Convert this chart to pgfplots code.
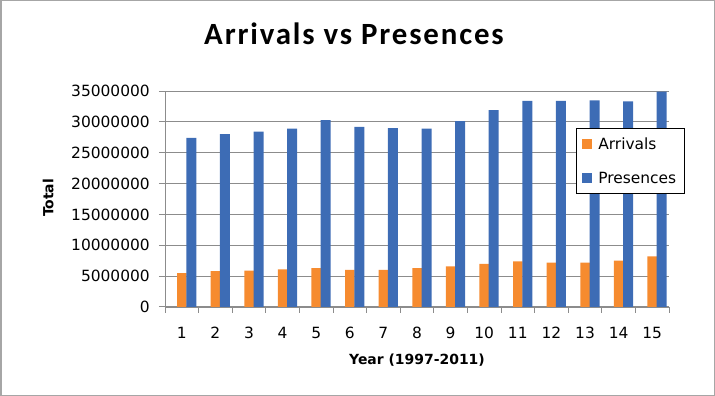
\documentclass[border=0pt]{standalone}
\usepackage{fontspec}
\setmainfont{DejaVu Sans}
\newfontfamily\titlefont[LetterSpace=6]{Carlito}
\usepackage{pgfplots}
\pgfplotsset{compat=1.18}
\definecolor{barorange}{HTML}{F68B2F}
\definecolor{barblue}{HTML}{3D6CB5}
\definecolor{gridgray}{HTML}{8C8C8C}
\begin{document}
\begin{tikzpicture}
\useasboundingbox (0,0) rectangle (715bp,396bp);
\draw[gray!70, line width=1.5bp] (0.75bp,0.75bp) rectangle (714.25bp,395.25bp);
\begin{axis}[
  at={(165bp,89bp)}, anchor=south west,
  scale only axis, width=504bp, height=216bp,
  xmin=0.5, xmax=15.5, ymin=0, ymax=35000000,
  ybar, bar width=9.5bp,
  xtick={1,...,15},
  minor xtick={0.5,1.5,...,15.5},
  ytick={0,5000000,10000000,15000000,20000000,25000000,30000000,35000000},
  scaled y ticks=false,
  /pgf/number format/.cd, fixed, 1000 sep={}, assume math mode=true, /pgfplots/.cd,
  ymajorgrids, major grid style={gridgray, line width=0.8bp},
  axis x line*=bottom, axis y line*=left,
  axis line style={gridgray, line width=1bp},
  tick align=outside,
  major tick length=6bp, minor tick length=6bp,
  major x tick style={draw=none},
  minor x tick style={gridgray, line width=1bp},
  major y tick style={gridgray, line width=1bp},
  tick label style={font=\fontsize{15.5}{18}\selectfont},
  xticklabel style={anchor=north, inner sep=0pt, yshift=-14bp},
  yticklabel style={anchor=east, inner sep=0pt, xshift=-9bp},
  label style={font=\bfseries\fontsize{14}{16}\selectfont},
  xlabel={Year (1997-2011)},
  ylabel={Total},
  xlabel style={at={(axis description cs:0.5,-0.245)}, anchor=center},
  ylabel style={at={(axis description cs:-0.232,0.505)}, anchor=center},
  legend style={at={(0.815,0.827)}, anchor=north west, draw=black, line width=1bp,
    fill=white, font=\fontsize{15.5}{18}\selectfont, inner xsep=6bp, inner ysep=7bp,
    row sep=17bp, column sep=4bp, cells={anchor=west}},
  legend image code/.code={\fill[#1] (0bp,-5bp) rectangle (10bp,5bp);},
]
\addplot[draw=none, fill=barorange, bar shift=0bp, bar width=9.5bp] coordinates {
(1,5500000) (2,5800000) (3,5900000) (4,6100000) (5,6300000) (6,6000000) (7,6000000)
(8,6300000) (9,6600000) (10,7000000) (11,7400000) (12,7200000) (13,7200000) (14,7500000) (15,8200000)};
\addlegendentry{Arrivals}
\addplot[draw=none, fill=barblue, bar shift=9.5bp, bar width=10bp] coordinates {
(1,27400000) (2,28000000) (3,28400000) (4,28900000) (5,30300000) (6,29200000) (7,29000000)
(8,28900000) (9,30100000) (10,31900000) (11,33400000) (12,33400000) (13,33500000) (14,33300000) (15,34900000)};
\addlegendentry{Presences}
\end{axis}
\node[anchor=base, font=\titlefont\bfseries\fontsize{31}{36}\selectfont] at (354bp,351bp) {Arrivals vs Presences};
\end{tikzpicture}
\end{document}
